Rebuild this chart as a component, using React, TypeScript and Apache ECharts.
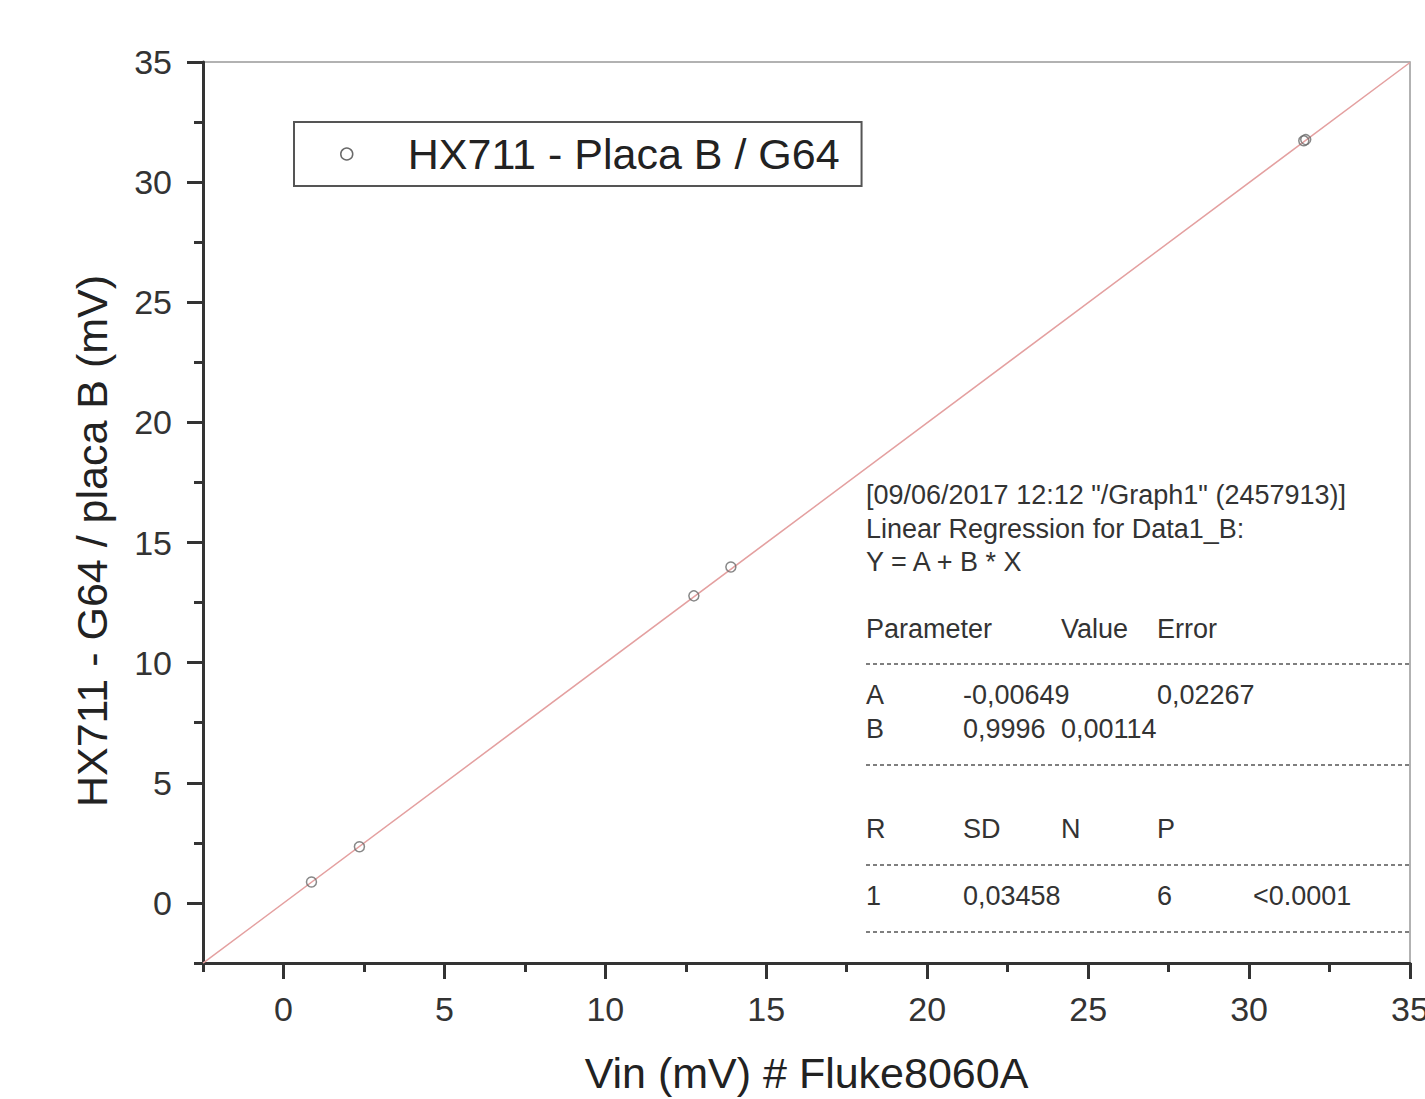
import React, { useEffect, useRef } from "react";
import * as echarts from "echarts";

// Data
const vinValues = [0.87, 2.36, 12.75, 13.9, 31.7, 31.76];
const hxValues = [0.87, 2.34, 12.78, 13.98, 31.72, 31.77];
// Regression line end points (Y = A + B*X, A=-0.00649, B=0.9996)
const fitX = [-2.5, 35];
const fitY = [-2.5055, 34.979];

const majorTicks = [0, 5, 10, 15, 20, 25, 30, 35];
const minorTicks = [-2.5, 2.5, 7.5, 12.5, 17.5, 22.5, 27.5, 32.5];

const seriesName = "HX711 - Placa B / G64";
const xTitle = "Vin (mV) # Fluke8060A";
const yTitle = "HX711 - G64 / placa B (mV)";

const headerLines = [
  '[09/06/2017 12:12 "/Graph1" (2457913)]',
  "Linear Regression for Data1_B:",
  "Y = A + B * X",
];
const tableRows = [
  ["Parameter", "", "Value", "Error", ""],
  ["A", "-0,00649", "", "0,02267", ""],
  ["B", "0,9996", "0,00114", "", ""],
  ["R", "SD", "N", "P", ""],
  ["1", "0,03458", "", "6", "<0.0001"],
];

const FONT = "'Liberation Sans', Arial, sans-serif";
const TXT = "#333";

export default function App() {
  const ref = useRef<HTMLDivElement>(null);
  useEffect(() => {
    if (!ref.current) return;
    const chart = echarts.init(ref.current, undefined, { renderer: "svg" });

    const graphics: any[] = [];
    // y axis title
    graphics.push({
      type: "text",
      x: 92,
      y: 541,
      rotation: Math.PI / 2,
      style: {
        text: yTitle,
        fontSize: 43,
        fontFamily: FONT,
        fill: "#222",
        align: "center",
        verticalAlign: "middle",
      },
    });
    const headerY = [495, 529, 562];
    headerLines.forEach((t, i) =>
      graphics.push({
        type: "text",
        x: 866,
        y: headerY[i],
        style: { text: t, fontSize: 27, fontFamily: FONT, fill: TXT, verticalAlign: "middle" },
      })
    );
    const rowY = [629, 695, 729, 829, 896];
    const colX = [866, 963, 1061, 1157, 1253];
    tableRows.forEach((row, r) =>
      row.forEach((cell, c) => {
        if (!cell) return;
        graphics.push({
          type: "text",
          x: colX[c],
          y: rowY[r],
          style: { text: cell, fontSize: 27, fontFamily: FONT, fill: TXT, verticalAlign: "middle" },
        });
      })
    );
    [664, 765, 865, 932].forEach((y) =>
      graphics.push({
        type: "line",
        shape: { x1: 866, y1: y, x2: 1410, y2: y },
        style: { stroke: "#555", lineWidth: 1.5, lineDash: [4, 3] },
      })
    );

    const axisLineStyle = { color: "#333", width: 3 };
    const labelStyle = { fontSize: 34, color: "#333", fontFamily: FONT };

    chart.setOption({
      animation: false,
      backgroundColor: "#fff",
      grid: {
        left: 203,
        top: 62,
        right: 15,
        bottom: 136,
        show: true,
        borderColor: "#999",
        borderWidth: 1.5,
        backgroundColor: "transparent",
        outerBoundsMode: "none",
        containLabel: false,
      },
      legend: {
        data: [
          {
            name: seriesName,
            icon: "circle",
            itemStyle: { color: "rgba(255,255,255,0)", borderColor: "#444", borderWidth: 1.5 },
          },
        ],
        left: 294,
        top: 122,
        orient: "horizontal",
        itemWidth: 12,
        itemHeight: 12,
        padding: [10, 22, 10, 46],
        borderColor: "#555",
        borderWidth: 2,
        textStyle: {
          fontSize: 43,
          fontFamily: FONT,
          color: "#222",
          lineHeight: 44,
          padding: [0, 0, 0, 50],
        },
      },
      xAxis: [
        {
          type: "value",
          min: -2.5,
          max: 35,
          position: "bottom",
          axisLine: { show: true, onZero: false, lineStyle: axisLineStyle },
          axisTick: { show: true, customValues: majorTicks, length: 16, lineStyle: axisLineStyle },
          axisLabel: { customValues: majorTicks, margin: 29, ...labelStyle },
          splitLine: { show: false },
          name: xTitle,
          nameLocation: "middle",
          nameGap: 88,
          nameTextStyle: { fontSize: 43, fontFamily: FONT, color: "#222" },
        },
        {
          type: "value",
          min: -2.5,
          max: 35,
          position: "bottom",
          axisLine: { show: false, onZero: false },
          axisTick: { show: true, customValues: minorTicks, length: 9, lineStyle: axisLineStyle },
          axisLabel: { show: false },
          splitLine: { show: false },
        },
      ],
      yAxis: [
        {
          type: "value",
          min: -2.5,
          max: 35,
          position: "left",
          axisLine: { show: true, onZero: false, lineStyle: axisLineStyle },
          axisTick: { show: true, customValues: majorTicks, length: 16, lineStyle: axisLineStyle },
          axisLabel: { customValues: majorTicks, margin: 31, ...labelStyle },
          splitLine: { show: false },
        },
        {
          type: "value",
          min: -2.5,
          max: 35,
          position: "left",
          axisLine: { show: false, onZero: false },
          axisTick: { show: true, customValues: minorTicks, length: 9, lineStyle: axisLineStyle },
          axisLabel: { show: false },
          splitLine: { show: false },
        },
      ],
      series: [
        {
          name: "fit",
          type: "line",
          data: fitX.map((x, i) => [x, fitY[i]]),
          showSymbol: false,
          lineStyle: { color: "#e4a0a0", width: 1.5 },
          silent: true,
          z: 1,
        },
        {
          name: seriesName,
          type: "scatter",
          data: vinValues.map((x, i) => [x, hxValues[i]]),
          symbol: "circle",
          symbolSize: 10,
          itemStyle: { color: "rgba(255,255,255,0)", borderColor: "#6a6a6a", borderWidth: 1.5 },
          z: 3,
        },
      ],
      graphic: graphics,
    });
    return () => chart.dispose();
  }, []);
  return (
    <div
      ref={ref}
      style={{ position: "absolute", left: 0, top: 0, width: 1425, height: 1099 }}
    />
  );
}
